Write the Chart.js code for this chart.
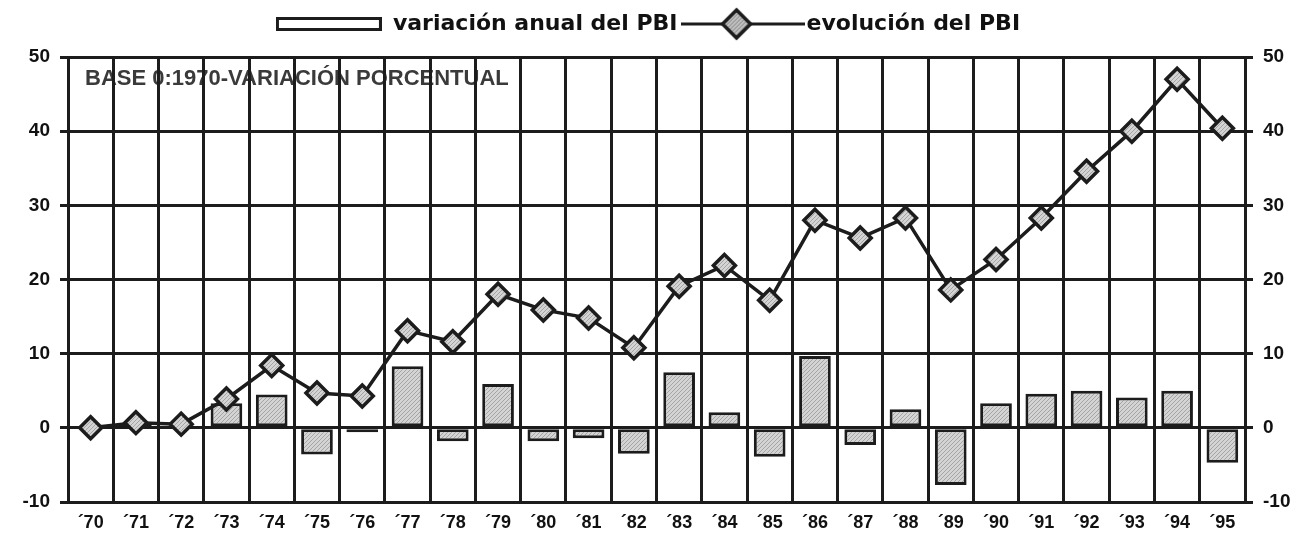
<!DOCTYPE html>
<html>
<head>
<meta charset="utf-8">
<script src="https://cdn.jsdelivr.net/npm/chart.js@4.4.1/dist/chart.umd.min.js"></script>
<style>
  html, body { margin: 0; padding: 0; background: #fff; }
  canvas { display: block; }
</style>
</head>
<body>
<canvas id="pbi" width="1296" height="540"></canvas>
<script>
// Years on the category axis
const years = ['´70', '´71', '´72', '´73', '´74', '´75', '´76', '´77', '´78', '´79', '´80', '´81', '´82',
               '´83', '´84', '´85', '´86', '´87', '´88', '´89', '´90', '´91', '´92', '´93', '´94', '´95'];

// Annual GDP change (%), drawn as bars
const annualChange = [null, 0.6, null, 3.3, 4.5, -3.6, -0.6, 8.3, -1.8, 5.9, -1.8, -1.4, -3.5,
                      7.5, 2.1, -3.9, 9.7, -2.3, 2.5, -7.7, 3.3, 4.6, 5.0, 4.1, 5.0, -4.7];

// Cumulative GDP evolution (% over 1970), drawn as a line with diamonds
const cumulative = [0, 0.7, 0.5, 3.9, 8.4, 4.7, 4.3, 13.1, 11.6, 18.0, 15.9, 14.8, 10.8,
                    19.1, 21.9, 17.2, 28.0, 25.6, 28.3, 18.6, 22.7, 28.3, 34.6, 40.0, 47.0, 40.4];

// Value axis range and step
const axisMin = -10;
const axisMax = 50;
const axisStep = 10;

const seriesNames = ['variación anual del PBI', 'evolución del PBI'];
const noteText = 'BASE 0:1970-VARIACIÓN PORCENTUAL';

const ink = '#1c1c1c';

// Light grey hatched fill used by bars and markers
function hatchPattern(g, base, stripe) {
  const c = document.createElement('canvas');
  c.width = 4; c.height = 4;
  const p = c.getContext('2d');
  p.fillStyle = base;
  p.fillRect(0, 0, 4, 4);
  p.strokeStyle = stripe;
  p.lineWidth = 1;
  p.beginPath();
  p.moveTo(0, 4); p.lineTo(4, 0);
  p.moveTo(-1, 1); p.lineTo(1, -1);
  p.moveTo(3, 5); p.lineTo(5, 3);
  p.stroke();
  return g.createPattern(c, 'repeat');
}

const ctx = document.getElementById('pbi').getContext('2d');
const hatch = hatchPattern(ctx, '#d4d4d4', '#a4a4a4');

// Legend swatch: hollow bar outline
function barSwatch() {
  const c = document.createElement('canvas');
  c.width = 106; c.height = 14;
  const g = c.getContext('2d');
  g.fillStyle = '#fff';
  g.fillRect(1.5, 1.5, 103, 11);
  g.strokeStyle = ink;
  g.lineWidth = 3;
  g.strokeRect(1.5, 1.5, 103, 11);
  return c;
}

// Legend swatch: line with a diamond marker
function lineSwatch() {
  const w = 124, h = 34;
  const c = document.createElement('canvas');
  c.width = w; c.height = h;
  const g = c.getContext('2d');
  g.strokeStyle = ink;
  g.lineWidth = 3;
  g.beginPath();
  g.moveTo(0, h / 2); g.lineTo(w, h / 2);
  g.stroke();
  const cx = w / 2 - 6, cy = h / 2, r = 14;
  g.beginPath();
  g.moveTo(cx, cy - r); g.lineTo(cx + r, cy); g.lineTo(cx, cy + r); g.lineTo(cx - r, cy);
  g.closePath();
  g.fillStyle = hatchPattern(g, '#bdbdbd', '#8a8a8a');
  g.fill();
  g.lineWidth = 3.5;
  g.stroke();
  return c;
}

// White page and the subtitle note inside the plot area
const notePlugin = {
  id: 'note',
  beforeDraw(chart) {
    const { ctx: g, chartArea } = chart;
    g.save();
    g.fillStyle = '#fff';
    g.fillRect(0, 0, chart.width, chart.height);
    g.font = 'bold 22px "Liberation Sans", Arial, sans-serif';
    g.fillStyle = '#3a3a3a';
    g.textBaseline = 'alphabetic';
    g.fillText(noteText, chartArea.left + 17, chartArea.top + 28);
    g.restore();
  }
};

// Extra space between the legend and the plot
const legendGap = {
  id: 'legendGap',
  beforeLayout(chart) {
    const legend = chart.legend;
    if (legend && !legend._gapPatched) {
      const fit = legend.fit;
      legend.fit = function () {
        fit.call(this);
        this.height += 12;
      };
      legend._gapPatched = true;
    }
  }
};

const tickFont = { family: '"Liberation Sans", Arial, sans-serif', weight: 'bold', size: 19 };

new Chart(ctx, {
  type: 'bar',
  data: {
    labels: years,
    datasets: [
      {
        type: 'bar',
        label: seriesNames[0],
        data: annualChange,
        backgroundColor: hatch,
        borderColor: ink,
        borderWidth: 3,
        borderSkipped: false,
        barPercentage: 0.7,
        categoryPercentage: 1.0,
        yAxisID: 'y',
        order: 1
      },
      {
        type: 'line',
        label: seriesNames[1],
        data: cumulative,
        borderColor: ink,
        borderWidth: 3.5,
        tension: 0,
        pointStyle: 'rectRot',
        pointRadius: 11,
        pointBackgroundColor: hatch,
        pointBorderColor: ink,
        pointBorderWidth: 3.5,
        yAxisID: 'y',
        order: 0
      }
    ]
  },
  options: {
    responsive: false,
    devicePixelRatio: 1,
    animation: false,
    layout: { padding: { top: 1, left: 0, right: 0, bottom: 0 } },
    plugins: {
      tooltip: { enabled: false },
      legend: {
        position: 'top',
        labels: {
          usePointStyle: true,
          pointStyleWidth: 106,
          padding: 12,
          color: '#111',
          font: { family: '"DejaVu Sans", sans-serif', weight: 'bold', size: 22 },
          generateLabels: () => [
            { text: seriesNames[0], pointStyle: barSwatch(), datasetIndex: 0, hidden: false,
              fillStyle: 'transparent', strokeStyle: 'transparent', lineWidth: 0, fontColor: '#111' },
            { text: seriesNames[1], pointStyle: lineSwatch(), datasetIndex: 1, hidden: false,
              fillStyle: 'transparent', strokeStyle: 'transparent', lineWidth: 0, fontColor: '#111' }
          ]
        }
      }
    },
    scales: {
      x: {
        offset: true,
        grid: { offset: true, color: ink, lineWidth: 3, drawTicks: false, tickLength: 0 },
        border: { display: true, color: ink, width: 3 },
        ticks: { color: '#111', font: { ...tickFont, size: 18 }, padding: 10, maxRotation: 0, autoSkip: false },
        afterFit(scale) { scale.height = 38; }
      },
      y: {
        position: 'left',
        min: axisMin,
        max: axisMax,
        grid: { color: ink, lineWidth: 3, drawTicks: true, tickLength: 8 },
        border: { display: true, color: ink, width: 3 },
        ticks: { stepSize: axisStep, color: '#111', font: tickFont, padding: 10 },
        afterFit(scale) { scale.width = 68; }
      },
      y2: {
        position: 'right',
        min: axisMin,
        max: axisMax,
        grid: { drawOnChartArea: false, color: ink, lineWidth: 3, drawTicks: true, tickLength: 8 },
        border: { display: true, color: ink, width: 3 },
        ticks: { stepSize: axisStep, color: '#111', font: tickFont, padding: 10 },
        afterFit(scale) { scale.width = 51; }
      }
    }
  },
  plugins: [legendGap, notePlugin]
});
</script>
</body>
</html>
